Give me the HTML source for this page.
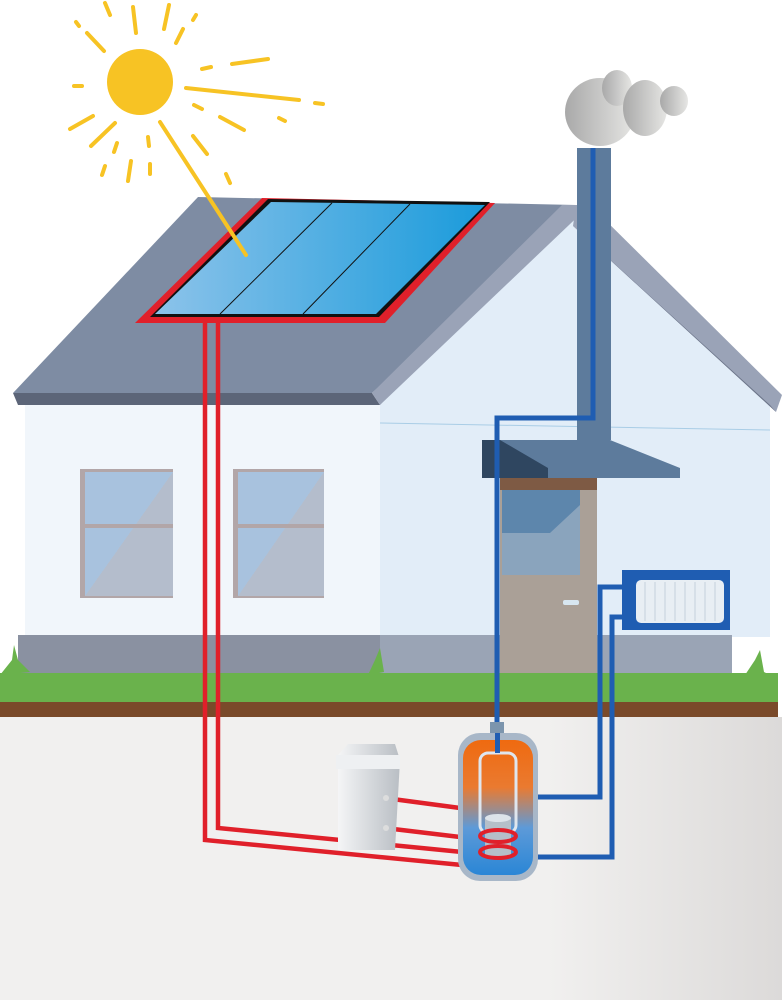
<!DOCTYPE html>
<html><head><meta charset="utf-8"><style>html,body{margin:0;padding:0;background:#fff}svg{display:block}</style></head>
<body>
<svg width="782" height="1000" viewBox="0 0 782 1000" xmlns="http://www.w3.org/2000/svg">
<defs>
<linearGradient id="gnd" x1="0" x2="1" y1="0" y2="0"><stop offset="0.7" stop-color="#f1f0ef"/><stop offset="1" stop-color="#dcdad9"/></linearGradient>
<linearGradient id="pan" x1="0" x2="1" y1="0" y2="0"><stop offset="0" stop-color="#8cc3ea"/><stop offset="1" stop-color="#1a9bdb"/></linearGradient>
<linearGradient id="cl" x1="0" x2="1"><stop offset="0" stop-color="#a9a9a9"/><stop offset="1" stop-color="#e6e6e4"/></linearGradient>
<linearGradient id="tank" x1="0" x2="0" y1="0" y2="1"><stop offset="0" stop-color="#ef6a10"/><stop offset="0.35" stop-color="#ea7a30"/><stop offset="0.65" stop-color="#5d9ad8"/><stop offset="1" stop-color="#2a86d6"/></linearGradient>
<linearGradient id="boil" x1="0" x2="1"><stop offset="0" stop-color="#f4f5f6"/><stop offset="1" stop-color="#b9bec4"/></linearGradient>
<linearGradient id="win" x1="0" x2="1" y1="0" y2="1"><stop offset="0.5" stop-color="#a8c2de"/><stop offset="0.5" stop-color="#b4bdcc"/></linearGradient>
</defs>
<!-- ground -->
<rect x="0" y="717" width="782" height="283" fill="url(#gnd)"/>
<!-- walls -->
<rect x="25" y="405" width="355" height="232" fill="#f1f6fb"/>
<polygon points="380,400 576,215 770,405 770,637 380,637" fill="#e2edf8"/>
<line x1="380" y1="423" x2="770" y2="430" stroke="#a9cde6" stroke-width="1"/>
<!-- foundation -->
<rect x="18" y="635" width="362" height="40" fill="#8a91a1"/>
<rect x="380" y="635" width="352" height="40" fill="#9aa4b5"/>
<!-- grass/dirt -->
<rect x="0" y="673" width="778" height="30" fill="#6ab24c"/>
<rect x="0" y="702" width="778" height="15" fill="#7a4a2a"/>
<polygon points="0,675 12,660 14,645 18,660 30,672" fill="#6ab24c"/>
<polygon points="368,675 375,660 380,648 384,672" fill="#6ab24c"/>
<polygon points="745,675 755,660 760,650 764,672 770,675" fill="#6ab24c"/>
<!-- roof -->
<polygon points="198,197 576,205 372,393 13,393" fill="#7e8ca3"/>
<polygon points="13,393 372,393 380,405 18,405" fill="#5c6578"/>
<polygon points="372,393 562,205 590,205 380,405" fill="#9aa3b7"/>
<polygon points="576,205 590,205 782,395 776,412 573,226" fill="#9aa3b7"/>
<polygon points="573,226 776,412 770,405" fill="#6c7589"/>
<!-- panel -->
<polygon points="262,198 495,203 385,323 135,323" fill="#e0202a"/>
<polygon points="268,199 490,202 379,317 150,317" fill="#111"/>
<polygon points="271,202 485,205 376,314 155,314" fill="url(#pan)"/>
<line x1="332" y1="203" x2="220" y2="314" stroke="#111" stroke-width="1"/>
<line x1="410" y1="204" x2="303" y2="314" stroke="#111" stroke-width="1"/>
<!-- sun -->
<g stroke="#f7c324" stroke-width="4" stroke-linecap="round">
<line x1="105" y1="3" x2="110" y2="15"/><line x1="133" y1="7" x2="136" y2="33"/><line x1="169" y1="5" x2="164" y2="29"/>
<line x1="196" y1="15" x2="193" y2="20"/><line x1="76" y1="22" x2="79" y2="26"/><line x1="87" y1="33" x2="104" y2="51"/>
<line x1="183" y1="29" x2="176" y2="43"/><line x1="202" y1="69" x2="211" y2="67"/><line x1="232" y1="64" x2="268" y2="59"/>
<line x1="74" y1="86" x2="82" y2="86"/><line x1="186" y1="88" x2="299" y2="100"/><line x1="315" y1="103" x2="323" y2="104"/>
<line x1="194" y1="105" x2="202" y2="109"/><line x1="220" y1="117" x2="244" y2="130"/><line x1="279" y1="118" x2="285" y2="121"/>
<line x1="93" y1="116" x2="70" y2="129"/><line x1="115" y1="123" x2="91" y2="146"/><line x1="117" y1="143" x2="114" y2="152"/>
<line x1="148" y1="137" x2="149" y2="146"/><line x1="193" y1="136" x2="207" y2="154"/><line x1="131" y1="161" x2="128" y2="181"/>
<line x1="150" y1="164" x2="150" y2="174"/><line x1="105" y1="166" x2="102" y2="175"/><line x1="226" y1="174" x2="230" y2="183"/>
<line x1="160" y1="122" x2="246" y2="255"/>
</g>
<circle cx="140" cy="82" r="33" fill="#f7c324"/>
<!-- cloud -->
<g fill="url(#cl)"><ellipse cx="600" cy="112" rx="35" ry="34"/><ellipse cx="617" cy="88" rx="15" ry="18"/><ellipse cx="645" cy="108" rx="22" ry="28"/><ellipse cx="674" cy="101" rx="14" ry="15"/></g>
<!-- chimney -->
<rect x="577" y="148" width="34" height="292" fill="#5d7b9c"/>
<!-- windows -->
<g><rect x="80" y="469" width="93" height="129" fill="#b2a6a8"/><rect x="85" y="472" width="88" height="124" fill="url(#win)"/><rect x="85" y="524" width="88" height="4" fill="#b2a6a8"/>
<rect x="233" y="469" width="91" height="129" fill="#b2a6a8"/><rect x="238" y="472" width="86" height="124" fill="url(#win)"/><rect x="238" y="524" width="86" height="4" fill="#b2a6a8"/></g>
<!-- door -->
<rect x="500" y="478" width="97" height="195" fill="#aaa097"/>
<rect x="500" y="478" width="97" height="12" fill="#7e5a44"/>
<rect x="502" y="490" width="78" height="85" fill="#8aa4bd"/>
<polygon points="502,490 580,490 580,505 550,533 502,533" fill="#5d86ac"/>
<rect x="563" y="600" width="16" height="5" rx="2" fill="#d7e6f0"/>
<!-- awning -->
<polygon points="482,440 610,440 680,468 680,478 482,478" fill="#5d7b9c"/>
<polygon points="482,440 500,440 548,468 548,478 482,478" fill="#2f4660"/>
<!-- radiator -->
<rect x="622" y="570" width="108" height="60" fill="#1f5db2"/>
<rect x="636" y="580" width="88" height="43" rx="5" fill="#e8eef4"/>
<g stroke="#c5d0dc" stroke-width="1"><line x1="645" y1="582" x2="645" y2="621"/><line x1="655" y1="582" x2="655" y2="621"/><line x1="665" y1="582" x2="665" y2="621"/><line x1="675" y1="582" x2="675" y2="621"/><line x1="685" y1="582" x2="685" y2="621"/><line x1="695" y1="582" x2="695" y2="621"/><line x1="705" y1="582" x2="705" y2="621"/><line x1="715" y1="582" x2="715" y2="621"/></g>
<!-- blue pipes -->
<g fill="none" stroke="#1f5db2" stroke-width="5">
<polyline points="593,148 593,418 497,418 497,730"/>
<polyline points="622,587 600,587 600,797 537,797"/>
<polyline points="622,617 612,617 612,857 537,857"/>
</g>
<!-- red pipes -->
<g fill="none" stroke="#e0202a" stroke-width="4.5">
<polyline points="205,323 205,840 462,865"/>
<polyline points="218,323 218,828 462,852"/>
<line x1="385" y1="828" x2="460" y2="837"/>
<line x1="385" y1="798" x2="460" y2="808"/>
</g>
<!-- boiler -->
<polygon points="338,755 348,744 395,744 400,760 395,850 338,850" fill="url(#boil)"/>
<rect x="336" y="755" width="64" height="14" fill="#eef0f2"/>
<circle cx="386" cy="798" r="3" fill="#ddd"/><circle cx="386" cy="828" r="3" fill="#ddd"/>
<!-- tank -->
<rect x="490" y="722" width="14" height="14" fill="#7c95ad"/>
<rect x="458" y="733" width="80" height="148" rx="22" fill="#a8b7c8"/>
<rect x="463" y="740" width="70" height="135" rx="18" fill="url(#tank)"/>
<rect x="480" y="753" width="36" height="80" rx="8" fill="none" stroke="#dfe6ee" stroke-width="3"/>
<rect x="485" y="818" width="26" height="40" fill="#b5bfc9"/>
<ellipse cx="498" cy="818" rx="13" ry="4" fill="#dde3ea"/>
<g fill="none" stroke="#e0202a" stroke-width="4"><ellipse cx="498" cy="836" rx="18" ry="6"/><ellipse cx="498" cy="852" rx="18" ry="6"/></g>
<rect x="495" y="733" width="5" height="20" fill="#1f5db2"/>
</svg>
</body></html>
